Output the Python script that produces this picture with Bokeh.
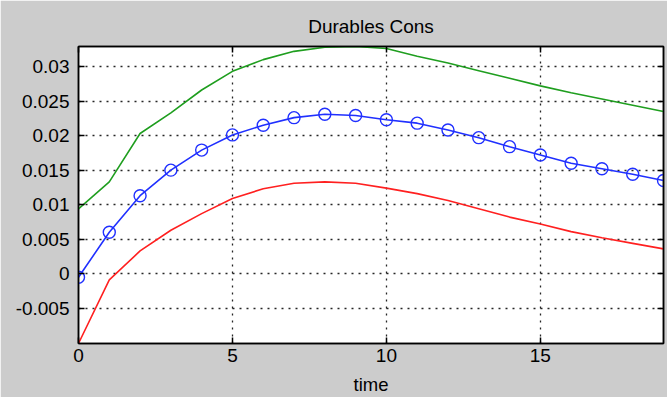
from bokeh.plotting import figure
from bokeh.models import Range1d, FixedTicker, LinearAxis, CustomJSTickFormatter
from bokeh.embed import file_html
from bokeh.resources import INLINE

# ---- data ----
time = list(range(20))
median = [-0.0005, 0.0060, 0.0113, 0.0150, 0.0179, 0.0201, 0.0215, 0.0226, 0.0231, 0.0229,
          0.0223, 0.0218, 0.0208, 0.0197, 0.0184, 0.0172, 0.0160, 0.0152, 0.0144, 0.0135]
upper = [0.0094, 0.0133, 0.0203, 0.0233, 0.0266, 0.0293, 0.0310, 0.0322, 0.0328, 0.0329,
         0.0326, 0.0315, 0.0305, 0.0294, 0.0283, 0.0272, 0.0262, 0.0253, 0.0244, 0.0235]
lower = [-0.0101, -0.0009, 0.0033, 0.0063, 0.0087, 0.0109, 0.0123, 0.0131, 0.0133, 0.0131,
         0.0124, 0.0116, 0.0106, 0.0094, 0.0082, 0.0072, 0.0061, 0.0052, 0.0044, 0.0036]
x_ticks = [0, 5, 10, 15]
y_ticks = [-0.005, 0.0, 0.005, 0.01, 0.015, 0.02, 0.025, 0.03]
title_text = "Durables Cons"
x_label = "time"

FONT = "Liberation Sans"
BG = "#cccccc"

p = figure(width=667, height=397, output_backend="svg", toolbar_location=None,
           x_range=Range1d(0, 19), y_range=Range1d(-0.0101, 0.0329),
           min_border_left=78, min_border_right=4, min_border_top=46, min_border_bottom=54,
           background_fill_color="white", border_fill_color=BG,
           outline_line_color="black", outline_line_width=1.5)

p.title.text = title_text
p.title.align = "center"
p.title.offset = -7
p.title.standoff = 19
p.title.text_font = FONT
p.title.text_font_size = "19px"
p.title.text_font_style = "normal"
p.title.text_color = "black"

fmt = CustomJSTickFormatter(code="""
var s = tick.toFixed(3);
if (s.indexOf('.') >= 0) { s = s.replace(/0+$/, '').replace(/\\.$/, ''); }
if (s === '-0') { s = '0'; }
return s;
""")
blank = CustomJSTickFormatter(code="return '';")

for ax in p.xaxis:
    ax.ticker = FixedTicker(ticks=x_ticks)
for ax in p.yaxis:
    ax.ticker = FixedTicker(ticks=y_ticks)
    ax.formatter = fmt

for ax in list(p.xaxis) + list(p.yaxis):
    ax.major_tick_in = 6
    ax.major_tick_out = 0
    ax.minor_tick_in = 0
    ax.minor_tick_out = 0
    ax.axis_line_color = "black"
    ax.axis_line_width = 1.5
    ax.major_tick_line_color = "black"
    ax.major_tick_line_width = 1.5
    ax.major_label_text_font = FONT
    ax.major_label_text_font_size = "19px"
    ax.major_label_text_color = "black"

p.yaxis.major_label_standoff = 9
p.xaxis.major_label_standoff = 5
p.xaxis.axis_label = x_label
p.xaxis.axis_label_text_font = FONT
p.xaxis.axis_label_text_font_size = "18.5px"
p.xaxis.axis_label_text_font_style = "normal"
p.xaxis.axis_label_text_color = "black"
p.xaxis.axis_label_standoff = 9

# tick-only axes on top and right (no labels)
top = LinearAxis(ticker=FixedTicker(ticks=x_ticks), formatter=blank,
                 major_tick_in=6, major_tick_out=0, minor_tick_in=0, minor_tick_out=0,
                 major_label_standoff=0, axis_line_width=1.5, major_tick_line_width=1.5)
right = LinearAxis(ticker=FixedTicker(ticks=y_ticks), formatter=blank,
                   major_tick_in=6, major_tick_out=0, minor_tick_in=0, minor_tick_out=0,
                   major_label_standoff=0, axis_line_width=1.5, major_tick_line_width=1.5)
p.add_layout(top, "above")
p.add_layout(right, "right")

for g in (p.xgrid, p.ygrid):
    g.grid_line_color = "black"
    g.grid_line_dash = "2 5"
    g.grid_line_width = 1.3
    g.grid_line_alpha = 0.85

p.line(time, upper, line_color="#1f9e1f", line_width=1.6)
p.line(time, lower, line_color="#ff2020", line_width=1.6)
p.line(time, median, line_color="#2030ff", line_width=1.6)
p.scatter(time, median, marker="circle", size=12, fill_color=None,
          line_color="#2030ff", line_width=1.4)

open("out.html", "w").write(file_html(p, INLINE))
